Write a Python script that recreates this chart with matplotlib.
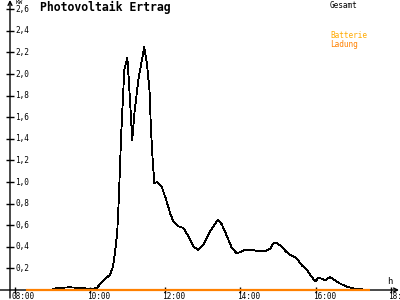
import matplotlib
matplotlib.use("Agg")
import matplotlib.pyplot as plt

# Gesamt (total PV yield), hours of day and kW
gesamt_h = [9.01, 9.20, 9.46, 9.68, 9.86, 10.05, 10.18, 10.32, 10.42, 10.53, 10.61, 10.66,
            10.72, 10.75, 10.80, 10.82, 10.87, 10.91, 10.99, 11.03, 11.08, 11.12, 11.18,
            11.28, 11.44, 11.51, 11.58, 11.62, 11.67, 11.71, 11.79, 11.91, 12.02, 12.13,
            12.21, 12.35, 12.48, 12.61, 12.75, 12.88, 13.01, 13.19, 13.40, 13.50, 13.64,
            13.77, 13.90, 13.99, 14.12, 14.30, 14.48, 14.65, 14.79, 14.88, 14.97, 15.10,
            15.23, 15.37, 15.48, 15.63, 15.76, 15.90, 15.99, 16.07, 16.16, 16.25, 16.38,
            16.52, 16.65, 16.83, 17.01, 17.24]
gesamt_kw = [0.012, 0.02, 0.025, 0.02, 0.015, 0.01, 0.02, 0.075, 0.11, 0.14, 0.22, 0.34,
             0.53, 0.74, 1.18, 1.39, 1.76, 2.04, 2.15, 1.94, 1.64, 1.39, 1.64,
             1.94, 2.25, 2.10, 1.85, 1.48, 1.17, 0.99, 1.00, 0.95, 0.84, 0.71,
             0.64, 0.59, 0.575, 0.50, 0.40, 0.37, 0.42, 0.54, 0.65, 0.61, 0.50,
             0.39, 0.34, 0.35, 0.37, 0.37, 0.36, 0.36, 0.38, 0.435, 0.435, 0.40,
             0.35, 0.315, 0.30, 0.23, 0.19, 0.12, 0.08, 0.11, 0.105, 0.09, 0.12,
             0.09, 0.06, 0.03, 0.015, 0.007]

# Batterie Ladung
batterie_h = [8.29, 17.45]
batterie_kw = [0.0, 0.0]

ytick_vals = [0.2, 0.4, 0.6, 0.8, 1.0, 1.2, 1.4, 1.6, 1.8, 2.0, 2.2, 2.4, 2.6]
ytick_labels = ["0,2", "0,4", "0,6", "0,8", "1,0", "1,2", "1,4", "1,6", "1,8", "2,0", "2,2", "2,4", "2,6"]
xtick_vals = [8, 10, 12, 14, 16, 18]
xtick_labels = ["08:00", "10:00", "12:00", "14:00", "16:00", "18:"]

W, H = 400, 300
fig = plt.figure(figsize=(4, 3), dpi=100)
# axes: y-axis at x=10px, baseline at y=290px
ax = fig.add_axes([10 / W, 10 / H, 389 / W, 290 / H])
pxh = 37.57           # pixels per hour
pxv = 108.0           # pixels per kW
xmin = 8 + (10 - 15) / pxh
xmax = 8 + (399 - 15) / pxh
ymax = 290 / pxv
ax.set_xlim(xmin, xmax)
ax.set_ylim(0, ymax)
for s in ax.spines.values():
    s.set_visible(False)

mono = "DejaVu Sans Mono"
fs = 5.6

# axes lines with arrows
ax.annotate("", xy=(xmax, 0), xytext=(xmin - 10 / pxh, 0), xycoords="data",
            arrowprops=dict(arrowstyle="->", lw=1.0, color="black", shrinkA=0, shrinkB=0,
                            mutation_scale=7), annotation_clip=False)
ax.annotate("", xy=(xmin, ymax), xytext=(xmin, -8 / pxv), xycoords="data",
            arrowprops=dict(arrowstyle="->", lw=1.0, color="black", shrinkA=0, shrinkB=0,
                            mutation_scale=7), annotation_clip=False)

ax.set_xticks(xtick_vals)
ax.set_yticks(ytick_vals)
ax.set_xticklabels([])
ax.set_yticklabels([])
ax.tick_params(axis="x", direction="inout", length=5, width=1.0, color="black")
ax.tick_params(axis="y", direction="inout", length=6, width=1.0, color="black")
ax.yaxis.set_ticks_position("left")

ax.plot(gesamt_h, gesamt_kw, color="black", lw=0.6, zorder=3, antialiased=False)
ax.plot(batterie_h, batterie_kw, color="#FF8000", lw=1.6, zorder=4, solid_capstyle="butt",
        clip_on=False)

# tick labels
ytr = ax.get_yaxis_transform()
for v, lab in zip(ytick_vals, ytick_labels):
    ax.text(5 / 389, v, lab, transform=ytr, ha="left", va="center", fontsize=fs,
            family=mono, color="black")
xtr = ax.get_xaxis_transform()
for v, lab in zip(xtick_vals, xtick_labels):
    ax.text(v - 3 / pxh, -6.5 / 290, lab, transform=xtr, ha="left", va="center",
            fontsize=fs, family=mono, color="black", clip_on=False)

ax.text(xtick_vals[-1] - 4 / pxh, 9 / pxv, "h", ha="left", va="center", fontsize=fs + 0.8,
        family=mono)

fig.text(16 / W, 1 - 2.5 / H, "KW", ha="left", va="center", fontsize=4.3, family=mono)
fig.text(40 / W, 1 - 7.5 / H, "Photovoltaik Ertrag", ha="left", va="center",
         fontsize=8.3, family=mono, weight="bold")
fig.text(330 / W, 1 - 5 / H, "Gesamt", ha="left", va="center", fontsize=fs, family=mono,
         color="black")
fig.text(330 / W, 1 - 36 / H, "Batterie", ha="left", va="center", fontsize=fs, family=mono,
         color="#FFAA00")
fig.text(330 / W, 1 - 44 / H, "Ladung", ha="left", va="center", fontsize=fs, family=mono,
         color="#FF8000")

fig.savefig("out.png", dpi=100)
